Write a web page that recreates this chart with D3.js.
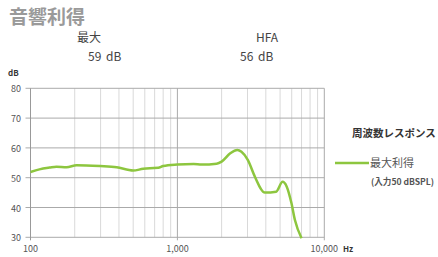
<!DOCTYPE html>
<html>
<head>
<meta charset="utf-8">
<script src="https://cdn.jsdelivr.net/npm/d3@7"></script>
<style>
  body { margin: 0; background: #fff; }
  text { font-family: "Noto Sans CJK JP", "Noto Sans", sans-serif; }
</style>
</head>
<body>
<svg id="chart"></svg>
<script>
const freqs = [100, 115, 135, 150, 176, 206, 297, 386, 500, 585, 650, 741, 800, 1000, 1290, 1460, 1850, 2000, 2290, 2560, 2730, 3020, 3370, 3940, 4700, 5200, 5550, 5980, 6310, 7000]
const gain  = [51.9, 52.8, 53.4, 53.7, 53.5, 54.2, 53.9, 53.5, 52.4, 53.0, 53.2, 53.3, 53.9, 54.4, 54.6, 54.4, 54.7, 55.4, 58.2, 59.3, 58.7, 55.9, 50.3, 45.0, 45.3, 48.6, 47.0, 41.4, 35.8, 29.7]
const yTicks = [30, 40, 50, 60, 70, 80]
const xTicks = [100, 1000, 10000]
const xMinor = [200, 300, 400, 500, 600, 700, 800, 900, 2000, 3000, 4000, 5000, 6000, 7000, 8000, 9000]
const summary = [{ label: '最大', value: '59 dB' }, { label: 'HFA', value: '56 dB' }]

const svg = d3.select('#chart').attr('width', 438).attr('height', 257)
const x = d3.scaleLog().domain([100, 10000]).range([30.5, 324.3])
const y = d3.scaleLinear().domain([30, 80]).range([237.3, 88.3])

svg.append('text').attr('x', 9).attr('y', 24).attr('font-size', 19).attr('font-weight', 'bold')
    .attr('fill', '#9a9a9a').text('音響利得')

const sx = [[77, 88], [256, 240]]
summary.forEach((d, i) => {
    svg.append('text').attr('x', sx[i][0]).attr('y', 42).attr('font-size', 12).attr('fill', '#444').text(d.label)
    svg.append('text').attr('x', sx[i][1]).attr('y', 61).attr('font-size', 12).attr('fill', '#444')
        .attr('font-family', 'Liberation Sans, sans-serif').style('word-spacing', '2px').text(d.value)
})

svg.append('text').attr('x', 8).attr('y', 76).attr('font-size', 8).attr('font-weight', 'bold').attr('fill', '#333').text('dB')

// vertical grid
svg.selectAll('.minor').data(xMinor).enter().append('line')
    .attr('x1', d => x(d)).attr('x2', d => x(d)).attr('y1', y(80)).attr('y2', y(30))
    .attr('stroke', '#d9d9d9').attr('stroke-width', 1)
svg.selectAll('.major').data(xTicks.slice(1)).enter().append('line')
    .attr('x1', d => x(d)).attr('x2', d => x(d)).attr('y1', y(80)).attr('y2', y(30) + 3)
    .attr('stroke', '#aaa').attr('stroke-width', 1)

// horizontal grid
svg.selectAll('.hgrid').data(yTicks).enter().append('line')
    .attr('x1', x(100) - 5).attr('x2', x(10000)).attr('y1', d => y(d)).attr('y2', d => y(d))
    .attr('stroke', '#aaa').attr('stroke-width', 1)

svg.append('line').attr('x1', x(100)).attr('x2', x(100)).attr('y1', y(80)).attr('y2', y(30) + 3)
    .attr('stroke', '#999').attr('stroke-width', 1)

svg.selectAll('.ylab').data(yTicks).enter().append('text')
    .attr('x', 21).attr('y', d => y(d) + 4).attr('text-anchor', 'end')
    .attr('font-size', 9).attr('fill', '#555').attr('font-family', 'Liberation Sans, sans-serif')
    .text(d => d)

svg.selectAll('.xlab').data(xTicks).enter().append('text')
    .attr('x', d => x(d)).attr('y', 252).attr('text-anchor', 'middle')
    .attr('font-size', 9).attr('fill', '#555').attr('font-family', 'Liberation Sans, sans-serif')
    .text(d => d3.format(',')(d))
svg.append('text').attr('x', 343).attr('y', 252).attr('font-size', 8).attr('font-weight', 'bold')
    .attr('fill', '#333').attr('font-family', 'Liberation Sans, sans-serif').text('Hz')

const line = d3.line().x((d, i) => x(freqs[i])).y(d => y(d)).curve(d3.curveMonotoneX)
svg.append('path').datum(gain).attr('d', line).attr('fill', 'none')
    .attr('stroke', '#8dc63f').attr('stroke-width', 2.5).attr('stroke-linejoin', 'round')

// legend
svg.append('text').attr('x', 352).attr('y', 137).attr('font-size', 10.5).attr('font-weight', 'bold')
    .attr('fill', '#333').text('周波数レスポンス')
svg.append('line').attr('x1', 335).attr('x2', 369).attr('y1', 163).attr('y2', 163)
    .attr('stroke', '#8dc63f').attr('stroke-width', 2.5)
svg.append('text').attr('x', 370).attr('y', 167).attr('font-size', 11).attr('fill', '#555').text('最大利得')
svg.append('text').attr('x', 371).attr('y', 185).attr('font-size', 8.6).attr('font-weight', 'bold')
    .attr('fill', '#555').text('(入力50 dBSPL)')
</script>
</body>
</html>
